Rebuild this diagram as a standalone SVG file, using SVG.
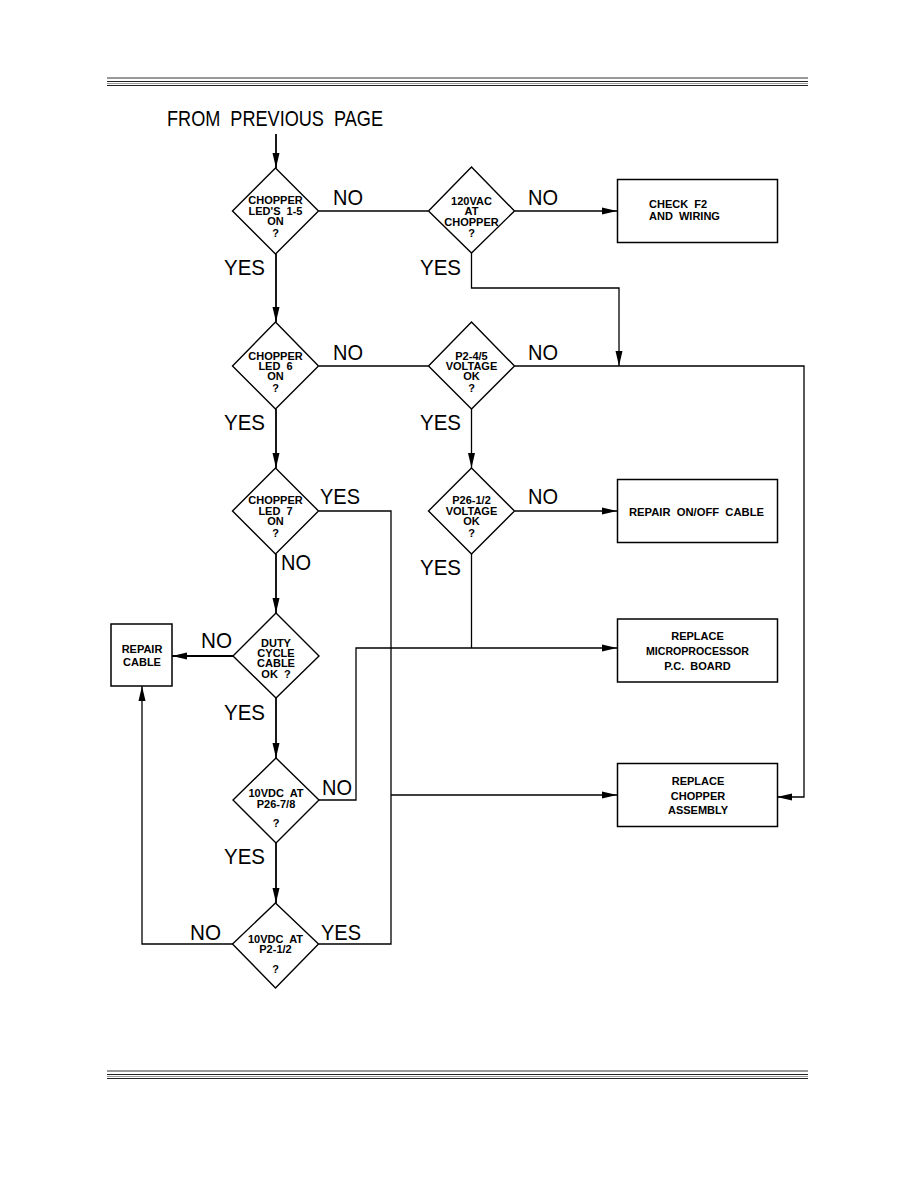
<svg xmlns="http://www.w3.org/2000/svg" width="918" height="1188" viewBox="0 0 918 1188">
<style>
.big{font-family:"Liberation Sans",Arial,sans-serif;font-size:22px;fill:#000}
.t{font-family:"Liberation Sans",Arial,sans-serif;font-size:11px;font-weight:bold;fill:#000;text-anchor:middle}
.tb{font-family:"Liberation Sans",Arial,sans-serif;font-size:11px;font-weight:bold;fill:#000}
.d{fill:#fff;stroke:#000;stroke-width:1.4}
.b{fill:#fff;stroke:#000;stroke-width:1.5}
.c{fill:none;stroke:#000;stroke-width:1.3}
.m{fill:none;stroke:#000;stroke-width:1.8}
</style>
<defs>
<marker id="ah" markerUnits="userSpaceOnUse" markerWidth="16" markerHeight="8" refX="15" refY="4" orient="auto">
<path d="M0,0.5 L15,4 L0,7.5 z" fill="#000"/>
</marker>
</defs>
<rect width="918" height="1188" fill="#fff"/>
<g id="rules">
<line x1="107" y1="78" x2="808" y2="78" stroke="#777" stroke-width="1.5"/>
<line x1="107" y1="81.5" x2="808" y2="81.5" stroke="#222" stroke-width="1"/>
<line x1="107" y1="83.5" x2="808" y2="83.5" stroke="#999" stroke-width="1"/>
<line x1="107" y1="85.5" x2="808" y2="85.5" stroke="#222" stroke-width="1"/>
<line x1="107" y1="1071" x2="808" y2="1071" stroke="#777" stroke-width="1.5"/>
<line x1="107" y1="1074.5" x2="808" y2="1074.5" stroke="#222" stroke-width="1"/>
<line x1="107" y1="1076.5" x2="808" y2="1076.5" stroke="#999" stroke-width="1"/>
<line x1="107" y1="1078.5" x2="808" y2="1078.5" stroke="#222" stroke-width="1"/>
</g>
<g id="connectors">
<path class="m" d="M276,134 V168" marker-end="url(#ah)"/>
<path class="c" d="M319,211 H428"/>
<path class="c" d="M515,211 H617" marker-end="url(#ah)"/>
<path class="m" d="M276,254 V322" marker-end="url(#ah)"/>
<path class="c" d="M471.5,253 V288 H619 V366" marker-end="url(#ah)"/>
<path class="c" d="M319,366 H428"/>
<path class="c" d="M515,366 H804 V797 H777" marker-end="url(#ah)"/>
<path class="m" d="M276,409 V468" marker-end="url(#ah)"/>
<path class="c" d="M471.5,409 V468" marker-end="url(#ah)"/>
<path class="c" d="M515,511 H617" marker-end="url(#ah)"/>
<path class="c" d="M471.5,554 V648"/>
<path class="c" d="M319,511 H391 V944 H318.5"/>
<path class="c" d="M391,795 H617" marker-end="url(#ah)"/>
<path class="m" d="M276,554 V613" marker-end="url(#ah)"/>
<path class="m" d="M233,656 H172" marker-end="url(#ah)"/>
<path class="m" d="M276,698 V758" marker-end="url(#ah)"/>
<path class="c" d="M319,800 H356 V648 H617" marker-end="url(#ah)"/>
<path class="m" d="M276,843 V903" marker-end="url(#ah)"/>
<path class="c" d="M233,944 H142 V686" marker-end="url(#ah)"/>
</g>
<g id="labels">
<text class="big" x="167" y="126" textLength="216" lengthAdjust="spacingAndGlyphs">FROM&#160; PREVIOUS&#160; PAGE</text>
<text class="big" x="333" y="205" textLength="30" lengthAdjust="spacingAndGlyphs">NO</text>
<text class="big" x="528" y="205" textLength="30" lengthAdjust="spacingAndGlyphs">NO</text>
<text class="big" x="224" y="275" textLength="41" lengthAdjust="spacingAndGlyphs">YES</text>
<text class="big" x="420" y="275" textLength="41" lengthAdjust="spacingAndGlyphs">YES</text>
<text class="big" x="333" y="360" textLength="30" lengthAdjust="spacingAndGlyphs">NO</text>
<text class="big" x="528" y="360" textLength="30" lengthAdjust="spacingAndGlyphs">NO</text>
<text class="big" x="224" y="430" textLength="41" lengthAdjust="spacingAndGlyphs">YES</text>
<text class="big" x="420" y="430" textLength="41" lengthAdjust="spacingAndGlyphs">YES</text>
<text class="big" x="320" y="504" textLength="40" lengthAdjust="spacingAndGlyphs">YES</text>
<text class="big" x="528" y="504" textLength="30" lengthAdjust="spacingAndGlyphs">NO</text>
<text class="big" x="281" y="570" textLength="30" lengthAdjust="spacingAndGlyphs">NO</text>
<text class="big" x="420" y="575" textLength="41" lengthAdjust="spacingAndGlyphs">YES</text>
<text class="big" x="201" y="648" textLength="31" lengthAdjust="spacingAndGlyphs">NO</text>
<text class="big" x="224" y="720" textLength="41" lengthAdjust="spacingAndGlyphs">YES</text>
<text class="big" x="322" y="795" textLength="30" lengthAdjust="spacingAndGlyphs">NO</text>
<text class="big" x="224" y="864" textLength="41" lengthAdjust="spacingAndGlyphs">YES</text>
<text class="big" x="190" y="940" textLength="31" lengthAdjust="spacingAndGlyphs">NO</text>
<text class="big" x="321" y="940" textLength="40" lengthAdjust="spacingAndGlyphs">YES</text>
</g>
<g id="d1">
<polygon class="d" points="275.5,168 318.5,211 275.5,254 232.5,211"/>
<text class="t" x="275.5" y="204">CHOPPER</text>
<text class="t" x="275.5" y="215">LED'S&#160; 1-5</text>
<text class="t" x="275.5" y="225">ON</text>
<text class="t" x="275.5" y="237">?</text>
</g>
<g id="d2">
<polygon class="d" points="471.5,167 514.5,211 471.5,253 428.5,211"/>
<text class="t" x="471.5" y="205">120VAC</text>
<text class="t" x="471.5" y="215">AT</text>
<text class="t" x="471.5" y="226">CHOPPER</text>
<text class="t" x="471.5" y="237">?</text>
</g>
<g id="box-check-f2">
<rect class="b" x="617.5" y="179.5" width="160" height="63"/>
<text class="tb" x="649" y="207.5">CHECK&#160; F2</text>
<text class="tb" x="649" y="220">AND&#160; WIRING</text>
</g>
<g id="d3">
<polygon class="d" points="275.5,322 318.5,366 275.5,409 232.5,366"/>
<text class="t" x="275.5" y="360">CHOPPER</text>
<text class="t" x="275.5" y="370">LED&#160; 6</text>
<text class="t" x="275.5" y="380">ON</text>
<text class="t" x="275.5" y="392">?</text>
</g>
<g id="d4">
<polygon class="d" points="471.5,322 514.5,366 471.5,409 428.5,366"/>
<text class="t" x="471.5" y="360">P2-4/5</text>
<text class="t" x="471.5" y="370">VOLTAGE</text>
<text class="t" x="471.5" y="380">OK</text>
<text class="t" x="471.5" y="392">?</text>
</g>
<g id="d5">
<polygon class="d" points="275.5,468 318.5,511 275.5,554 232.5,511"/>
<text class="t" x="275.5" y="504">CHOPPER</text>
<text class="t" x="275.5" y="515">LED&#160; 7</text>
<text class="t" x="275.5" y="525">ON</text>
<text class="t" x="275.5" y="537">?</text>
</g>
<g id="d6">
<polygon class="d" points="471.5,468 514.5,511 471.5,554 428.5,511"/>
<text class="t" x="471.5" y="504">P26-1/2</text>
<text class="t" x="471.5" y="515">VOLTAGE</text>
<text class="t" x="471.5" y="525">OK</text>
<text class="t" x="471.5" y="537">?</text>
</g>
<g id="box-repair-onoff">
<rect class="b" x="617.5" y="479.5" width="160" height="63"/>
<text class="tb" x="629" y="515.5" textLength="135" lengthAdjust="spacingAndGlyphs">REPAIR&#160; ON/OFF&#160; CABLE</text>
</g>
<g id="box-microprocessor">
<rect class="b" x="617.5" y="619" width="160" height="63"/>
<text class="t" x="697.5" y="640">REPLACE</text>
<text class="t" x="697.5" y="655" textLength="103" lengthAdjust="spacingAndGlyphs">MICROPROCESSOR</text>
<text class="t" x="697.5" y="669.5">P.C.&#160; BOARD</text>
</g>
<g id="d7">
<polygon class="d" points="276,613 319,656 276,698 233,656"/>
<text class="t" x="276" y="647">DUTY</text>
<text class="t" x="276" y="657">CYCLE</text>
<text class="t" x="276" y="667">CABLE</text>
<text class="t" x="276" y="678">OK&#160; ?</text>
</g>
<g id="box-repair-cable">
<rect class="b" x="111" y="624" width="61" height="62"/>
<text class="t" x="142" y="653">REPAIR</text>
<text class="t" x="142" y="666">CABLE</text>
</g>
<g id="d8">
<polygon class="d" points="276,758 319,800 276,843 233,800"/>
<text class="t" x="276" y="797">10VDC&#160; AT</text>
<text class="t" x="276" y="808">P26-7/8</text>
<text class="t" x="276" y="827">?</text>
</g>
<g id="box-chopper-assembly">
<rect class="b" x="617.5" y="763.5" width="160" height="63"/>
<text class="t" x="698" y="785">REPLACE</text>
<text class="t" x="698" y="799.5">CHOPPER</text>
<text class="t" x="698" y="813.5">ASSEMBLY</text>
</g>
<g id="d9">
<polygon class="d" points="275.5,903 318.5,944 275.5,988 232.5,944"/>
<text class="t" x="275.5" y="943">10VDC&#160; AT</text>
<text class="t" x="275.5" y="953">P2-1/2</text>
<text class="t" x="275.5" y="973">?</text>
</g>
</svg>
